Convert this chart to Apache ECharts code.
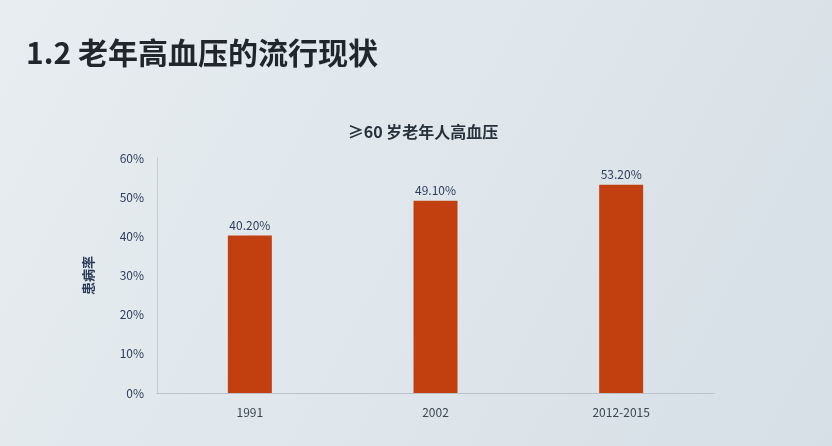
<!DOCTYPE html>
<html><head><meta charset="utf-8">
<script src="https://cdn.jsdelivr.net/npm/echarts@6/dist/echarts.min.js"></script>
<style>html,body{margin:0;padding:0;}#c{width:832px;height:446px;}</style>
</head><body><div id="c"></div>
<script>
const categories = ['1991', '2002', '2012-2015'];
const prevalence = [40.2, 49.1, 53.2];
const yTicks = [0, 10, 20, 30, 40, 50, 60];

const chart = echarts.init(document.getElementById('c'));
chart.setOption({
  backgroundColor: {
    type: 'linear', x: 0, y: 0, x2: 1, y2: 1,
    colorStops: [{offset: 0, color: '#e7edf0'}, {offset: 0.5, color: '#dfe7ec'}, {offset: 1, color: '#d6dfe6'}]
  },
  textStyle: {fontFamily: 'Noto Sans CJK SC'},
  title: [
    {text: '1.2 老年高血压的流行现状', left: 21, top: 33,
     textStyle: {fontSize: 30, fontWeight: 'bold', color: '#1f262c', fontFamily: 'Noto Sans CJK SC'}},
    {text: '≥60 岁老年人高血压', left: 418, top: 119, textAlign: 'center',
     textStyle: {fontSize: 16, fontWeight: 'bold', color: '#26313c', fontFamily: 'Noto Sans CJK SC'}}
  ],
  grid: {left: 157, right: 118, top: 158, bottom: 53},
  xAxis: {
    type: 'category', data: categories,
    axisLine: {lineStyle: {color: '#b9c2c9'}},
    axisTick: {show: false},
    axisLabel: {color: '#3a4550', fontSize: 12, margin: 13}
  },
  yAxis: {
    type: 'value', min: 0, max: 60, interval: 10,
    name: '患病率', nameLocation: 'middle', nameRotate: 90, nameGap: 62,
    nameTextStyle: {color: '#2a3a55', fontSize: 13, fontWeight: 'bold'},
    axisLine: {show: true, lineStyle: {color: '#c3cbd1'}},
    axisTick: {show: false},
    splitLine: {show: false},
    axisLabel: {color: '#2c3d5a', fontSize: 12, margin: 13,
      formatter: v => yTicks.includes(v) ? v + '%' : ''}
  },
  series: [{
    type: 'bar', data: prevalence, barWidth: 44,
    itemStyle: {color: '#c2400f'},
    label: {show: true, position: 'top', distance: 4, color: '#2c3d5a', fontSize: 12,
      formatter: p => p.value.toFixed(2) + '%'}
  }]
});
</script></body></html>
